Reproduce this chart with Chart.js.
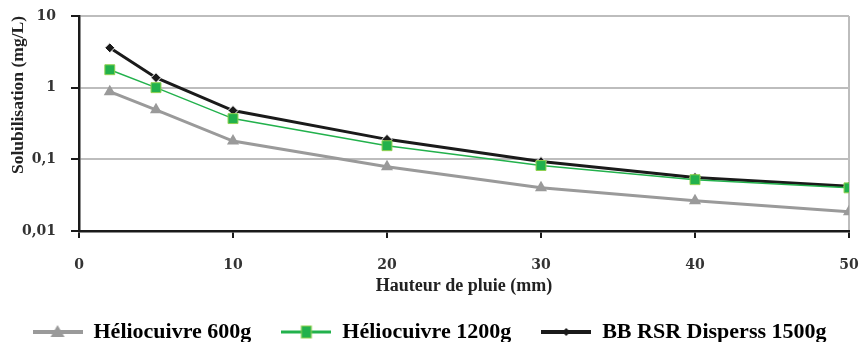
<!DOCTYPE html>
<html>
<head>
<meta charset="utf-8">
<script src="https://cdn.jsdelivr.net/npm/chart.js@4/dist/chart.umd.min.js"></script>
<style>
  html, body { margin: 0; padding: 0; background: #fff; }
  #box { width: 859px; height: 342px; }
</style>
</head>
<body>
<div id="box"><canvas id="solub_chart"></canvas></div>
<script>
// DATA
const rain_mm = [2, 5, 10, 20, 30, 40, 50];
const helio_600 = [0.88, 0.49, 0.18, 0.079, 0.040, 0.0265, 0.0186];
const helio_1200 = [1.78, 1.0, 0.37, 0.155, 0.082, 0.052, 0.040];
const bb_rsr_1500 = [3.6, 1.38, 0.48, 0.19, 0.093, 0.056, 0.042];
const series_names = ['Héliocuivre 600g', 'Héliocuivre 1200g', 'BB RSR Disperss 1500g'];
const y_ticks = [0.01, 0.1, 1, 10];
const x_ticks = [0, 10, 20, 30, 40, 50];

const serif = '"Liberation Serif", "DejaVu Serif", serif';
const wide_serif = '"DejaVu Serif", "Liberation Serif", serif';

function toPoints(values) {
  return rain_mm.map((x, i) => ({ x: x, y: values[i] }));
}

// legend icon : a short line with the marker in the middle
function legendIcon(lineColor, lineWidth, drawMarker) {
  const c = document.createElement('canvas');
  c.width = 50; c.height = 16;
  const g = c.getContext('2d');
  g.strokeStyle = lineColor;
  g.lineWidth = lineWidth;
  g.beginPath(); g.moveTo(0, 8); g.lineTo(50, 8); g.stroke();
  drawMarker(g, 25, 8);
  return c;
}

const icon_600 = legendIcon('#9a9a9a', 4, (g, x, y) => {
  g.fillStyle = '#9a9a9a';
  g.beginPath(); g.moveTo(x, y - 7); g.lineTo(x + 7, y + 5); g.lineTo(x - 7, y + 5); g.closePath(); g.fill();
});
const icon_1200 = legendIcon('#22b14c', 3, (g, x, y) => {
  g.fillStyle = '#22b14c'; g.strokeStyle = '#8fd14f'; g.lineWidth = 1;
  g.fillRect(x - 5, y - 6, 10, 12); g.strokeRect(x - 5, y - 6, 10, 12);
});
const icon_1500 = legendIcon('#1a1a1a', 4, (g, x, y) => {
  g.fillStyle = '#1a1a1a';
  g.beginPath(); g.moveTo(x, y - 4); g.lineTo(x + 4, y); g.lineTo(x, y + 4); g.lineTo(x - 4, y); g.closePath(); g.fill();
});

const data = {
  datasets: [{
    label: series_names[0],
    data: toPoints(helio_600),
    borderColor: '#9a9a9a',
    backgroundColor: '#9a9a9a',
    borderWidth: 3,
    pointStyle: 'triangle',
    pointRadius: 7,
    pointBorderWidth: 0,
    legendIcon: icon_600
  }, {
    label: series_names[1],
    data: toPoints(helio_1200),
    borderColor: '#22b14c',
    backgroundColor: '#22b14c',
    borderWidth: 1.5,
    pointStyle: 'rect',
    pointRadius: 7,
    pointBorderColor: '#8fd14f',
    pointBorderWidth: 1,
    legendIcon: icon_1200
  }, {
    label: series_names[2],
    data: toPoints(bb_rsr_1500),
    borderColor: '#1a1a1a',
    backgroundColor: '#1a1a1a',
    borderWidth: 3,
    pointStyle: 'rectRot',
    pointRadius: 5,
    pointBorderColor: '#ffffff',
    pointBorderWidth: 1,
    legendIcon: icon_1500
  }]
};

const config = {
  type: 'line',
  data: data,
  options: {
    responsive: true,
    maintainAspectRatio: false,
    animation: false,
    layout: { padding: { left: 0, right: 0, top: 0, bottom: -11 } },
    elements: { line: { tension: 0 } },
    plugins: {
      tooltip: { enabled: false },
      legend: {
        position: 'bottom',
        labels: {
          usePointStyle: true,
          pointStyleWidth: 50,
          color: '#1a1a1a',
          font: { family: serif, size: 22, weight: 'bold' },
          padding: 30,
          generateLabels: (chart) => chart.data.datasets.map((ds, i) => ({
            text: ds.label,
            pointStyle: ds.legendIcon,
            fillStyle: ds.borderColor,
            strokeStyle: ds.borderColor,
            lineWidth: 0,
            datasetIndex: i,
            hidden: false
          }))
        }
      }
    },
    scales: {
      x: {
        type: 'linear',
        min: 0,
        max: 50,
        afterBuildTicks: (axis) => { axis.ticks = x_ticks.map(v => ({ value: v })); },
        afterFit: (axis) => {
          axis.height = 60;
          axis.paddingLeft = 0;
          axis.paddingRight = 10;
        },
        border: { color: '#1a1a1a', width: 2.5 },
        grid: {
          color: (ctx) => (ctx.tick && ctx.tick.value === 50) ? '#bdbdbd' : 'rgba(0,0,0,0)',
          lineWidth: 2,
          tickColor: '#1a1a1a',
          tickLength: 7,
          tickWidth: 2
        },
        ticks: {
          color: '#333',
          padding: 19,
          font: { family: wide_serif, size: 14, weight: 'bold' }
        },
        title: {
          display: true,
          text: 'Hauteur de pluie (mm)',
          color: '#222',
          padding: { top: 0, bottom: -6 },
          font: { family: serif, size: 18, weight: 'bold' }
        }
      },
      y: {
        type: 'logarithmic',
        min: 0.01,
        max: 10,
        afterBuildTicks: (axis) => { axis.ticks = y_ticks.map(v => ({ value: v })); },
        afterFit: (axis) => {
          axis.width = 79;
          axis.paddingTop = 16;
          axis.paddingBottom = 0;
        },
        border: { color: '#1a1a1a', width: 2.5 },
        grid: {
          color: (ctx) => (ctx.tick && ctx.tick.value === 0.01) ? 'rgba(0,0,0,0)' : '#bdbdbd',
          lineWidth: 2,
          tickColor: '#1a1a1a',
          tickLength: 8,
          tickWidth: 2
        },
        ticks: {
          color: '#333',
          padding: 15,
          font: { family: wide_serif, size: 14, weight: 'bold' },
          callback: (v) => String(v).replace('.', ',')
        },
        title: {
          display: true,
          text: 'Solubilisation (mg/L)',
          align: 'end',
          color: '#222',
          padding: { top: 8, bottom: 0 },
          font: { family: serif, size: 17.5, weight: 'bold' }
        }
      }
    }
  }
};

var solubChart = new Chart(document.getElementById('solub_chart'), config);
</script>
</body>
</html>
